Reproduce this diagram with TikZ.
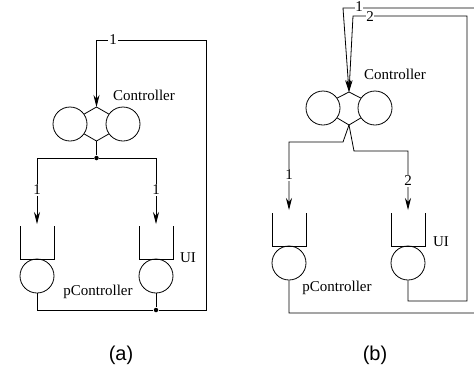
\documentclass[tikz,border=0pt]{standalone}
\usepackage{fontspec}
\setmainfont{Liberation Serif}
\newfontfamily\capfont{Liberation Sans}
\usetikzlibrary{arrows.meta}
\begin{document}
\begin{tikzpicture}[x=1pt,y=-1pt,line width=0.8pt,
  every node/.style={font=\fontsize{15}{15}\selectfont,inner sep=0pt},
  proc/.style={draw,circle,minimum size=34pt,inner sep=0pt},
  lbl/.style={fill=white,inner sep=1pt},
  arr/.style={-{Stealth[length=12pt,width=6pt]}},
  dot/.style={circle,fill,minimum size=4.5pt,inner sep=0pt},
  caption/.style={font=\capfont\fontsize{20}{20}\selectfont}]
\useasboundingbox (0,0) rectangle (474,376);

% ---------------- (a) ----------------
% controller: two processes joined by a hexagonal link
\node[proc] (aL) at (70,124) {};
\node[proc] (aR) at (123,124) {};
\coordinate (aT) at (96.5,107);
\coordinate (aB) at (96.5,141);
\draw (aL.35) -- (aT) -- (aR.145);
\draw (aL.-35) -- (aB) -- (aR.-145);
\node (aCtl) at (144,95) {Controller};

% split of the controller output
\node[dot] (aJ1) at (96.5,158) {};
\draw (aB) -- (aJ1);
\coordinate (aIn1) at (37,224);
\coordinate (aIn2) at (156,224);
\draw[arr] (aJ1) -| (aIn1);
\draw[arr] (aJ1) -| (aIn2);
\node[lbl] (aN1) at (37,190) {1};
\node[lbl] (aN2) at (156,190) {1};

% queues with their processes
\draw (20,226) -- (20,259) -- (54,259) -- (54,226);
\draw (139,226) -- (139,259) -- (173,259) -- (173,226);
\node[proc] (aP1) at (37,276) {};
\node[proc] (aP2) at (156,276) {};
\node (aPC) at (98,292) {pController};
\node (aUI) at (188,258) {UI};

% return path to the controller
\node[dot] (aJ2) at (156,310) {};
\coordinate (aBL) at (37,310);
\coordinate (aCorner) at (206,40);
\draw (aP1.south) -- (aBL) -- (aJ2);
\draw (aP2.south) -- (aJ2);
\draw[arr] (aJ2) -| (aCorner) -| (aT);
\node[lbl] (aTop) at (113,40) {1};

\node[caption] (capA) at (121,355) {(a)};

% ---------------- (b) ----------------
\node[proc] (bL) at (323,108) {};
\node[proc] (bR) at (375,108) {};
\coordinate (bT) at (349,92);
\coordinate (bB) at (349,125);
\draw (bL.35) -- (bT) -- (bR.145);
\draw (bL.-35) -- (bB) -- (bR.-145);
\node (bCtl) at (395,74) {Controller};

% two outputs of the controller
\coordinate (bK1) at (343,142);
\coordinate (bK2) at (354,151);
\coordinate (bIn1) at (289,210);
\coordinate (bIn2) at (408,210);
\draw[arr] (bB) -- (bK1) -| (bIn1);
\draw[arr] (bB) -- (bK2) -| (bIn2);
\node[lbl] (bN1) at (289,175) {1};
\node[lbl] (bN2) at (408,181) {2};

% queues with their processes
\draw (272,213) -- (272,246) -- (306,246) -- (306,213);
\draw (391,213) -- (391,246) -- (425,246) -- (425,213);
\node[proc] (bP1) at (289,263) {};
\node[proc] (bP2) at (408,263) {};
\node (bPC) at (337,288) {pController};
\node (bUI) at (441,242) {UI};

% two return paths into the controller
\coordinate (bR1a) at (289,313);
\coordinate (bR1b) at (480,313);
\coordinate (bR1c) at (480,8);
\coordinate (bR1d) at (343,8);
\draw[arr] (bP1.south) -- (bR1a) -- (bR1b) -- (bR1c) -- (bR1d) -- (bT);
\coordinate (bR2a) at (408,301);
\coordinate (bR2b) at (467,301);
\coordinate (bR2c) at (467,16);
\coordinate (bR2d) at (353,16);
\draw[arr] (bP2.south) -- (bR2a) -- (bR2b) -- (bR2c) -- (bR2d) -- (bT);
\node[lbl,inner sep=0.3pt] (bTop1) at (359,7) {1};
\node[lbl,inner sep=0.3pt] (bTop2) at (370,17) {2};

\node[caption] (capB) at (375,355) {(b)};
\end{tikzpicture}
\end{document}
